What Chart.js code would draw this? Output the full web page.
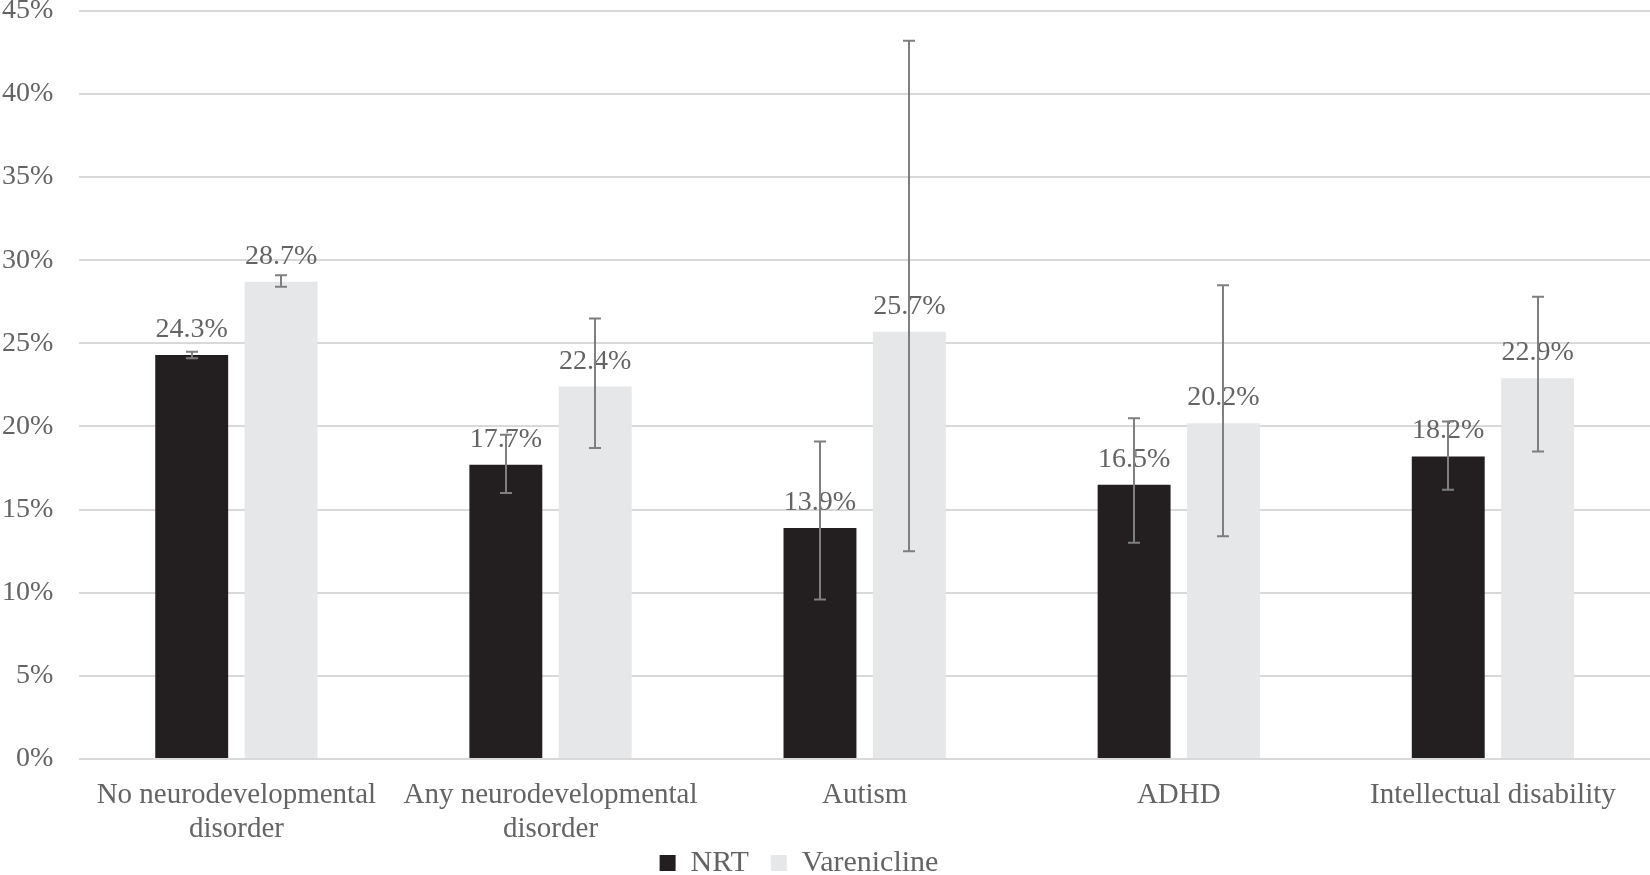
<!DOCTYPE html>
<html>
<head>
<meta charset="utf-8">
<script src="https://cdn.jsdelivr.net/npm/chart.js@4"></script>
<style>
  html, body { margin: 0; padding: 0; background: #ffffff; overflow: hidden; }
  #wrap { position: absolute; left: -24px; top: -32px; width: 1674px; height: 953px; }
</style>
</head>
<body>
<div id="wrap"><canvas id="c"></canvas></div>
<script>
const categories = [
  ["No neurodevelopmental", "disorder"],
  ["Any neurodevelopmental", "disorder"],
  "Autism",
  "ADHD",
  "Intellectual disability"
];
const nrtValues = [24.3, 17.7, 13.9, 16.5, 18.2];
const vareniclineValues = [28.7, 22.4, 25.7, 20.2, 22.9];
const nrtLow  = [24.1, 16.0, 9.6, 13.0, 16.2];
const nrtHigh = [24.5, 19.5, 19.1, 20.5, 20.3];
const varLow  = [28.4, 18.7, 12.5, 13.4, 18.5];
const varHigh = [29.1, 26.5, 43.2, 28.5, 27.8];
const yTicks = [0, 5, 10, 15, 20, 25, 30, 35, 40, 45];

const FONT = "'Liberation Serif', 'Times New Roman', serif";
const TEXT = '#646466';

const errors = [[nrtLow, nrtHigh], [varLow, varHigh]];

const overlay = {
  id: 'overlay',
  afterDatasetsDraw(chart) {
    const ctx = chart.ctx;
    const y = chart.scales.y;
    ctx.save();
    ctx.font = '28px ' + FONT;
    ctx.fillStyle = TEXT;
    ctx.textAlign = 'center';
    ctx.textBaseline = 'alphabetic';
    chart.data.datasets.forEach((ds, i) => {
      chart.getDatasetMeta(i).data.forEach((bar, j) => {
        ctx.fillText(ds.data[j].toFixed(1) + '%', bar.x, bar.y - 18);
      });
    });
    ctx.strokeStyle = '#7f7f7f';
    ctx.lineWidth = 2;
    chart.data.datasets.forEach((ds, i) => {
      const [lo, hi] = errors[i];
      chart.getDatasetMeta(i).data.forEach((bar, j) => {
        const x = Math.round(bar.x);
        const yl = y.getPixelForValue(lo[j]);
        const yh = y.getPixelForValue(hi[j]);
        ctx.beginPath();
        ctx.moveTo(x, yl); ctx.lineTo(x, yh);
        ctx.moveTo(x - 6, yl); ctx.lineTo(x + 6, yl);
        ctx.moveTo(x - 6, yh); ctx.lineTo(x + 6, yh);
        ctx.stroke();
      });
    });
    ctx.restore();
  }
};

// place the legend below the axis labels, slightly left of centre
const legendPlace = {
  id: 'legendPlace',
  afterLayout(chart) {
    const lg = chart.legend;
    const h = lg.height;
    lg.top = chart.chartArea.bottom + 67;
    lg.bottom = lg.top + h;
    lg.left -= 14;
    lg.right -= 14;
  }
};

new Chart(document.getElementById('c'), {
  type: 'bar',
  data: {
    labels: categories,
    datasets: [
      { label: 'NRT', data: nrtValues, backgroundColor: '#231f20',
        categoryPercentage: 0.569, barPercentage: 0.816 },
      { label: 'Varenicline', data: vareniclineValues, backgroundColor: '#e6e7e8',
        categoryPercentage: 0.569, barPercentage: 0.816 }
    ]
  },
  options: {
    responsive: true,
    maintainAspectRatio: false,
    animation: false,
    devicePixelRatio: 1,
    layout: { padding: 0 },
    plugins: {
      legend: {
        position: 'bottom',
        maxHeight: 62,
        labels: {
          boxWidth: 16, boxHeight: 16, padding: 22,
          color: TEXT,
          font: { family: FONT, size: 30 }
        }
      },
      tooltip: { enabled: false }
    },
    scales: {
      x: {
        grid: { display: false, drawTicks: false },
        border: { display: false },
        afterFit(axis) { axis.height = 100; },
        ticks: {
          color: TEXT, font: { family: FONT, size: 29, lineHeight: 1.16 },
          maxRotation: 0, autoSkip: false, padding: 20
        }
      },
      y: {
        min: 0, max: 45,
        afterBuildTicks(axis) { axis.ticks = yTicks.map(v => ({ value: v })); },
        grid: { color: '#d9d9d9', lineWidth: 2, drawTicks: false },
        border: { display: false },
        ticks: {
          color: TEXT, font: { family: FONT, size: 28 }, padding: 26,
          callback: v => v + '%'
        }
      }
    }
  },
  plugins: [overlay, legendPlace]
});
</script>
</body>
</html>
